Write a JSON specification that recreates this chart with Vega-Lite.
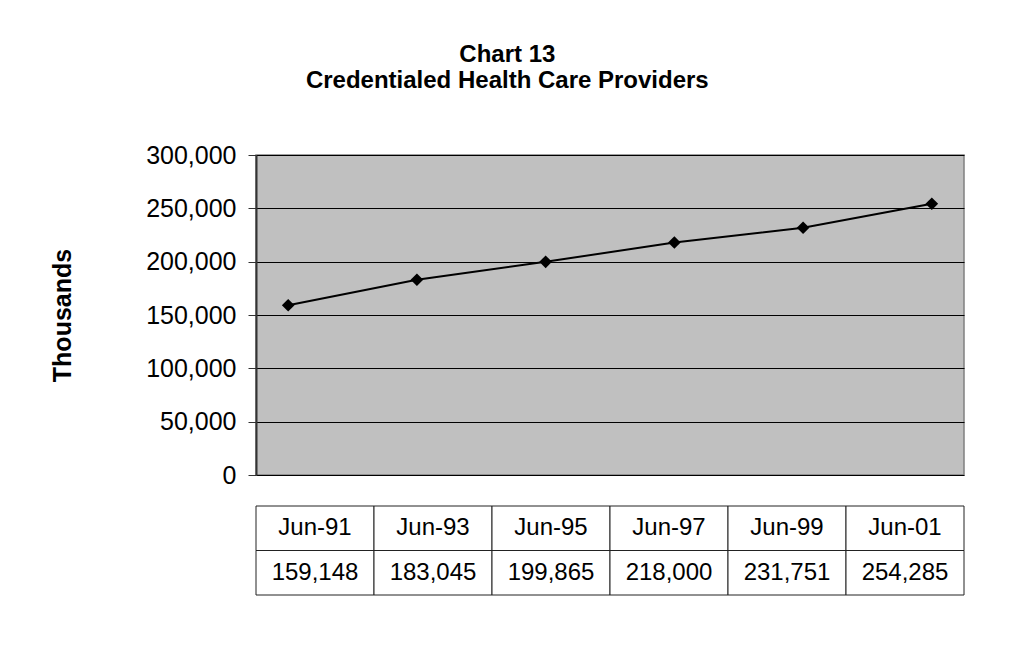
{
  "$schema": "https://vega.github.io/schema/vega-lite/v6.json",
  "background": "white",
  "padding": {"left": 49, "top": 43, "right": 0, "bottom": 0},
  "title": {
    "text": ["Chart 13", "Credentialed Health Care Providers"],
    "font": "Liberation Sans",
    "fontSize": 24,
    "fontWeight": "bold",
    "color": "black",
    "anchor": "middle",
    "lineHeight": 26,
    "offset": 49
  },
  "datasets": {
    "providers": [
      {"period": "Jun-91", "value": 159148},
      {"period": "Jun-93", "value": 183045},
      {"period": "Jun-95", "value": 199865},
      {"period": "Jun-97", "value": 218000},
      {"period": "Jun-99", "value": 231751},
      {"period": "Jun-01", "value": 254285}
    ]
  },
  "spacing": 16,
  "resolve": {"scale": {"x": "independent", "y": "independent"}},
  "vconcat": [
    {
      "width": 708,
      "height": 320,
      "view": {"fill": "#C0C0C0", "stroke": "#808080", "strokeWidth": 1.5},
      "data": {"name": "providers"},
      "encoding": {
        "x": {
          "field": "period",
          "type": "ordinal",
          "sort": null,
          "scale": {"type": "point", "padding": 0.25},
          "axis": null
        },
        "y": {
          "field": "value",
          "type": "quantitative",
          "scale": {"domain": [0, 300000], "nice": false},
          "axis": {
            "values": [0, 50000, 100000, 150000, 200000, 250000, 300000],
            "format": ",.0f",
            "formatType": "number",
            "title": "Thousands",
            "grid": true,
            "gridColor": "black",
            "gridWidth": 1,
            "gridOpacity": 1,
            "tickSize": 8,
            "tickColor": "#333333",
            "domainColor": "#333333",
            "domainWidth": 2,
            "labelFont": "Liberation Sans",
            "labelFontSize": 25,
            "labelColor": "black",
            "labelPadding": 12,
            "titleFont": "Liberation Sans",
            "titleFontSize": 25,
            "titleFontWeight": "bold",
            "titleColor": "black",
            "titlePadding": 70
          }
        }
      },
      "layer": [
        {"mark": {"type": "line", "color": "black", "strokeWidth": 2}},
        {"mark": {"type": "point", "shape": "diamond", "filled": true, "color": "black", "size": 160, "opacity": 1}}
      ]
    },
    {
      "width": 708,
      "height": 89,
      "view": {"stroke": null, "fill": null},
      "data": {"name": "providers"},
      "encoding": {
        "x": {
          "field": "period",
          "type": "ordinal",
          "sort": null,
          "scale": {"type": "band", "paddingInner": 0, "paddingOuter": 0},
          "axis": null
        }
      },
      "layer": [
        {
          "mark": {"type": "rect", "fill": "white", "stroke": "#222222", "strokeWidth": 1},
          "encoding": {
            "y": {"datum": "header", "type": "nominal", "scale": {"domain": ["header", "value"], "paddingInner": 0, "paddingOuter": 0}, "axis": null}
          }
        },
        {
          "mark": {"type": "text", "font": "Liberation Sans", "fontSize": 24, "color": "black"},
          "encoding": {
            "y": {"datum": "header", "type": "nominal"},
            "text": {"field": "period", "type": "nominal"}
          }
        },
        {
          "mark": {"type": "rect", "fill": "white", "stroke": "#222222", "strokeWidth": 1},
          "encoding": {
            "y": {"datum": "value", "type": "nominal"}
          }
        },
        {
          "mark": {"type": "text", "font": "Liberation Sans", "fontSize": 24, "color": "black"},
          "encoding": {
            "y": {"datum": "value", "type": "nominal"},
            "text": {"field": "value", "type": "quantitative", "format": ","}
          }
        }
      ]
    }
  ]
}
